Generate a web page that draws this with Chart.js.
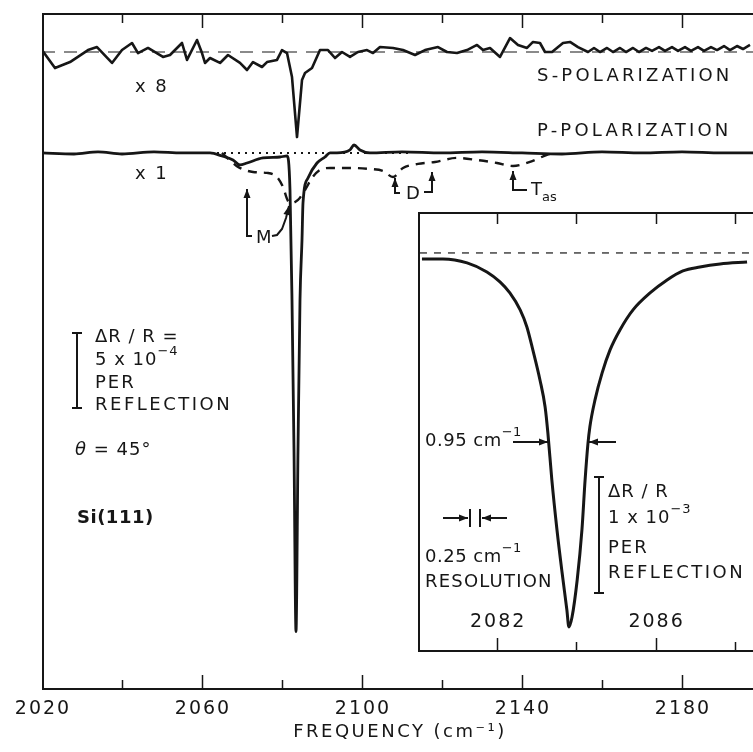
<!DOCTYPE html>
<html>
<head>
<meta charset="utf-8">
<script src="https://cdn.jsdelivr.net/npm/chart.js@4.4.1/dist/chart.umd.min.js"></script>
<style>
  body { margin: 0; background: #fff; }
  #wrap { position: relative; width: 753px; height: 752px; overflow: hidden; }
  #mainChart { position: absolute; left: 0; top: 0; }
  #inset { position: absolute; left: 418px; top: 212px; }
</style>
</head>
<body>
<div id="wrap">
  <canvas id="mainChart" width="753" height="752"></canvas>
  <canvas id="inset" width="335" height="440"></canvas>
</div>
<script>
// ---- datos (ΔR/R en unidades de 1e-3) ----

// S-polarizacion, ya multiplicada x8 (desplazada hacia arriba al dibujar)
const sFreq = [2020, 2023.25, 2027, 2031.5, 2033.75, 2037.5, 2040, 2042.5, 2044, 2046.5, 2050.25, 2052, 2055, 2056.25, 2058.75, 2060, 2060.75, 2062, 2064.5, 2066.5, 2069.5, 2071.25, 2072.75, 2075, 2076.25, 2078.75, 2080, 2081.25, 2082.5, 2083.75, 2085, 2085.75, 2087.5, 2089.5, 2091.5, 2093.25, 2095, 2097, 2099, 2101.25, 2102.75, 2104.5, 2107.75, 2110.25, 2113.25, 2115.75, 2119, 2121.25, 2123.75, 2126.25, 2128.75, 2130.25, 2132, 2134.5, 2137, 2139, 2141.25, 2142.75, 2144.5, 2145.75, 2147.5, 2150.25, 2152, 2154, 2156.5, 2158, 2159.5, 2161.25, 2162.75, 2164.5, 2166, 2167.75, 2169.25, 2171, 2172.5, 2174.25, 2175.75, 2177.5, 2179, 2180.75, 2182.25, 2184, 2185.5, 2187.25, 2188.75, 2190.5, 2192, 2193.75, 2195.25, 2197];
const sValX8 = [0.013, -0.107, -0.067, 0.013, 0.033, -0.073, 0.013, 0.06, -0.007, 0.027, -0.033, -0.02, 0.06, -0.053, 0.08, -0.007, -0.073, -0.04, -0.073, -0.02, -0.073, -0.12, -0.067, -0.1, -0.067, -0.053, 0.013, -0.007, -0.167, -0.567, -0.187, -0.14, -0.107, 0.013, 0.013, -0.04, 0, -0.033, 0, 0.013, -0.007, 0.033, 0.027, 0.013, -0.02, 0.013, 0.033, 0, -0.007, 0.013, 0.047, 0.013, 0.027, -0.033, 0.093, 0.047, 0.027, 0.067, 0.06, 0, 0, 0.06, 0.067, 0.033, 0, 0.027, 0, 0.027, 0, 0.027, 0, 0.027, 0, 0.027, 0.007, 0.033, 0.007, 0.033, 0.007, 0.033, 0.007, 0.033, 0.007, 0.033, 0.013, 0.04, 0.013, 0.04, 0.02, 0.047];
const S_OFFSET = 0.673;

// P-polarizacion x1 (linea continua)
const pFreq = [2020, 2028, 2034, 2040, 2048, 2055, 2062, 2065, 2067.75, 2069.5, 2071.25, 2075.25, 2079.5, 2081.25, 2082, 2082.5, 2083, 2083.5, 2084, 2084.5, 2085, 2085.25, 2086.5, 2088.75, 2090.75, 2092, 2093.75, 2097, 2098, 2099.5, 2102, 2110, 2120, 2130, 2140, 2150, 2160, 2170, 2180, 2190, 2198];
const pVal = [0, -0.007, 0.007, -0.007, 0.007, 0, 0, -0.02, -0.047, -0.08, -0.067, -0.033, -0.027, -0.02, -0.247, -0.98, -1.98, -3.19, -1.98, -0.98, -0.58, -0.333, -0.167, -0.067, -0.027, 0, 0, 0.02, 0.053, 0.02, 0, 0.007, 0, 0.007, 0, -0.007, 0.007, 0, 0.007, 0, 0];

// P-polarizacion, curva discontinua (M, D, Tas)
const dFreq = [2065, 2067.75, 2069, 2072.75, 2076.25, 2078.75, 2080.25, 2081.5, 2082.5, 2084, 2085.75, 2087.5, 2089.5, 2092, 2097, 2102, 2105.25, 2107.75, 2110.25, 2114, 2118.25, 2123.75, 2128.75, 2133.75, 2137.75, 2142, 2146.25, 2148.25];
const dVal = [0, -0.067, -0.093, -0.127, -0.133, -0.16, -0.227, -0.32, -0.333, -0.313, -0.247, -0.167, -0.113, -0.1, -0.1, -0.107, -0.12, -0.16, -0.1, -0.073, -0.06, -0.033, -0.047, -0.067, -0.087, -0.06, -0.013, 0];

// recuadro: pico ampliado
const insetFreq = [2080.1, 2080.63, 2081.24, 2081.74, 2082.07, 2082.32, 2082.58, 2082.75, 2082.9, 2083.08, 2083.21, 2083.28, 2083.38, 2083.51, 2083.64, 2083.76, 2083.81, 2083.89, 2084.02, 2084.14, 2084.22, 2084.29, 2084.34, 2084.47, 2084.65, 2084.85, 2085.1, 2085.43, 2085.86, 2086.29, 2086.69, 2087.12, 2087.63, 2088.31];
const insetVal = [-0.052, -0.052, -0.086, -0.164, -0.25, -0.345, -0.491, -0.638, -0.836, -1.095, -1.328, -1.552, -1.957, -2.388, -2.759, -3.078, -3.224, -3.138, -2.819, -2.388, -1.957, -1.65, -1.5, -1.267, -1.034, -0.836, -0.664, -0.491, -0.345, -0.233, -0.155, -0.121, -0.095, -0.078];

// marcas de los ejes
const xTickLabels = [2020, 2060, 2100, 2140, 2180];
const xMinorTicks = [2040, 2080, 2120, 2160];
const insetTickLabels = [2082, 2086];
const insetMinorTicks = [2084, 2088];

const INK = '#161616';
const FONT = '"DejaVu Sans", sans-serif';

function toPoints(xs, ys, offset) {
    return xs.map(function (x, i) { return { x: x, y: ys[i] + (offset || 0) }; });
}

function setFont(ctx, size, style) {
    ctx.font = (style || '') + ' ' + size + 'px ' + FONT;
}

// texto con partes normales, superindices y subindices
function richText(ctx, parts, x, y, size) {
    let cx = x;
    parts.forEach(function (p) {
        const small = p[1] === 'sup' || p[1] === 'sub';
        setFont(ctx, small ? Math.round(size * 0.72) : size, p[2]);
        const dy = p[1] === 'sup' ? -size * 0.45 : (p[1] === 'sub' ? size * 0.4 : 0);
        ctx.fillText(p[0], cx, y + dy);
        cx += ctx.measureText(p[0]).width;
    });
}

// polilinea con punta de flecha en el ultimo punto
function arrow(ctx, pts) {
    ctx.beginPath();
    ctx.moveTo(pts[0][0], pts[0][1]);
    for (let i = 1; i < pts.length; i++) ctx.lineTo(pts[i][0], pts[i][1]);
    ctx.stroke();
    const a = pts[pts.length - 2], b = pts[pts.length - 1];
    const ang = Math.atan2(b[1] - a[1], b[0] - a[0]);
    const c = Math.cos(ang), s = Math.sin(ang);
    ctx.beginPath();
    ctx.moveTo(b[0], b[1]);
    ctx.lineTo(b[0] - 9 * c + 3.5 * s, b[1] - 9 * s - 3.5 * c);
    ctx.lineTo(b[0] - 9 * c - 3.5 * s, b[1] - 9 * s + 3.5 * c);
    ctx.closePath();
    ctx.fill();
}

function polyline(ctx, pts) {
    ctx.beginPath();
    ctx.moveTo(pts[0][0], pts[0][1]);
    for (let i = 1; i < pts.length; i++) ctx.lineTo(pts[i][0], pts[i][1]);
    ctx.stroke();
}

// barra de escala vertical con topes
function scaleBar(ctx, x, y1, y2) {
    polyline(ctx, [[x, y1], [x, y2]]);
    polyline(ctx, [[x - 5, y1], [x + 5, y1]]);
    polyline(ctx, [[x - 5, y2], [x + 5, y2]]);
}

function drawNotes(ctx, notes, dx, dy) {
    ctx.textBaseline = 'middle';
    ctx.textAlign = 'left';
    notes.forEach(function (n) {
        ctx.letterSpacing = (n.ls === undefined ? 2 : n.ls) + 'px';
        richText(ctx, n.parts, n.x - dx, n.y - dy, n.size || 18);
    });
    ctx.letterSpacing = '0px';
}

// textos de la grafica principal (coordenadas de pagina)
const mainNotes = [
    { x: 135, y: 87, parts: [['x 8']] },
    { x: 135, y: 174, parts: [['x 1']] },
    { x: 537, y: 76, parts: [['S-POLARIZATION']], size: 18, ls: 3.2 },
    { x: 537, y: 131, parts: [['P-POLARIZATION']], size: 18, ls: 3.2 },
    { x: 256, y: 238, parts: [['M']], ls: 0 },
    { x: 406, y: 194, parts: [['D']], ls: 0 },
    { x: 531, y: 190, parts: [['T'], ['as', 'sub']], ls: 0 },
    { x: 95, y: 337, parts: [['ΔR / R =']], ls: 1 },
    { x: 95, y: 360, parts: [['5 x 10'], ['−4', 'sup']], ls: 1 },
    { x: 95, y: 383, parts: [['PER']] },
    { x: 95, y: 405, parts: [['REFLECTION']], ls: 2.5 },
    { x: 75, y: 450, parts: [['θ', '', 'italic'], [' = 45°']], ls: 1 },
    { x: 77, y: 518, parts: [['Si(111)', '', 'bold']], ls: 0.5 }
];

// textos del recuadro (coordenadas de pagina)
const insetNotes = [
    { x: 425, y: 441, parts: [['0.95 cm'], ['−1', 'sup']], ls: 0.5 },
    { x: 425, y: 557, parts: [['0.25 cm'], ['−1', 'sup']], ls: 0.5 },
    { x: 425, y: 582, parts: [['RESOLUTION']], ls: 1.2 },
    { x: 608, y: 492, parts: [['ΔR / R']], ls: 1 },
    { x: 608, y: 518, parts: [['1 x 10'], ['−3', 'sup']], ls: 1 },
    { x: 608, y: 548, parts: [['PER']] },
    { x: 608, y: 573, parts: [['REFLECTION']], ls: 2.5 }
];

const mainDecor = {
    id: 'mainDecor',
    afterDraw: function (chart) {
        const ctx = chart.ctx;
        const a = chart.chartArea;
        const xs = chart.scales.x;
        ctx.save();
        ctx.strokeStyle = INK;
        ctx.fillStyle = INK;
        ctx.lineWidth = 2;
        // marco: arriba, izquierda, abajo
        polyline(ctx, [[a.right, a.top + 1], [a.left + 1, a.top + 1], [a.left + 1, a.bottom - 1], [a.right, a.bottom - 1]]);
        // marcas hacia dentro
        ctx.lineWidth = 1.5;
        xTickLabels.concat(xMinorTicks).forEach(function (v) {
            if (v <= xs.min) return;
            const px = Math.round(xs.getPixelForValue(v)) + 0.5;
            const len = xTickLabels.indexOf(v) >= 0 ? 15 : 10;
            polyline(ctx, [[px, a.top], [px, a.top + len]]);
            polyline(ctx, [[px, a.bottom], [px, a.bottom - len]]);
        });
        // etiquetas del eje x
        ctx.textAlign = 'center';
        ctx.textBaseline = 'middle';
        ctx.letterSpacing = '2px';
        setFont(ctx, 19);
        xTickLabels.forEach(function (v) {
            ctx.fillText(String(v), xs.getPixelForValue(v) + 1, a.bottom + 19);
        });
        setFont(ctx, 18);
        ctx.letterSpacing = '2.5px';
        ctx.fillText('FREQUENCY (cm⁻¹)', 400, a.bottom + 42);
        // anotaciones
        ctx.lineWidth = 2;
        drawNotes(ctx, mainNotes, 0, 0);
        scaleBar(ctx, 77, 333, 408);
        // M
        arrow(ctx, [[252, 236], [247, 236], [247, 189]]);
        arrow(ctx, [[272, 236], [277, 235], [282, 229], [286, 218], [289, 206]]);
        // D
        arrow(ctx, [[400, 193], [395, 193], [395, 178]]);
        arrow(ctx, [[424, 192], [432, 192], [432, 172]]);
        // Tas
        arrow(ctx, [[527, 190], [513, 190], [513, 171]]);
        ctx.restore();
    }
};

const insetDecor = {
    id: 'insetDecor',
    beforeDraw: function (chart) {
        const ctx = chart.ctx;
        ctx.save();
        ctx.fillStyle = '#fff';
        ctx.fillRect(0, 0, chart.width, chart.height);
        ctx.restore();
    },
    afterDraw: function (chart) {
        const ctx = chart.ctx;
        const a = chart.chartArea;
        const xs = chart.scales.x;
        const ox = 418, oy = 212;
        ctx.save();
        ctx.strokeStyle = INK;
        ctx.fillStyle = INK;
        ctx.lineWidth = 2;
        polyline(ctx, [[a.right, a.top + 1], [a.left + 1, a.top + 1], [a.left + 1, a.bottom - 1], [a.right, a.bottom - 1]]);
        ctx.lineWidth = 1.5;
        insetTickLabels.concat(insetMinorTicks).forEach(function (v) {
            const px = Math.round(xs.getPixelForValue(v)) + 0.5;
            const len = insetTickLabels.indexOf(v) >= 0 ? 14 : 10;
            polyline(ctx, [[px, a.top], [px, a.top + 12]]);
            polyline(ctx, [[px, a.bottom], [px, a.bottom - len]]);
        });
        ctx.textAlign = 'center';
        ctx.textBaseline = 'middle';
        ctx.letterSpacing = '2px';
        setFont(ctx, 19);
        insetTickLabels.forEach(function (v) {
            ctx.fillText(String(v), xs.getPixelForValue(v) + 1, a.bottom - 30);
        });
        ctx.lineWidth = 2;
        drawNotes(ctx, insetNotes, ox, oy);
        // ancho a media altura
        arrow(ctx, [[513 - ox, 442 - oy], [548 - ox, 442 - oy]]);
        arrow(ctx, [[616 - ox, 442 - oy], [589 - ox, 442 - oy]]);
        // resolucion
        arrow(ctx, [[443 - ox, 518 - oy], [468 - ox, 518 - oy]]);
        arrow(ctx, [[507 - ox, 518 - oy], [482 - ox, 518 - oy]]);
        polyline(ctx, [[470 - ox, 509 - oy], [470 - ox, 527 - oy]]);
        polyline(ctx, [[480 - ox, 509 - oy], [480 - ox, 527 - oy]]);
        scaleBar(ctx, 599 - ox, 477 - oy, 593 - oy);
        ctx.restore();
    }
};

function lineSet(points, width, dash, mode) {
    return {
        data: points,
        borderColor: INK,
        borderWidth: width,
        borderDash: dash || [],
        pointRadius: 0,
        fill: false,
        tension: 0,
        cubicInterpolationMode: mode || 'default',
        borderJoinStyle: 'round',
        borderCapStyle: 'butt'
    };
}

function hiddenScales(xmin, xmax, ymin, ymax) {
    return {
        x: { type: 'linear', min: xmin, max: xmax, display: false },
        y: { type: 'linear', min: ymin, max: ymax, display: false }
    };
}

// grafica principal
new Chart(document.getElementById('mainChart').getContext('2d'), {
    type: 'line',
    data: {
        datasets: [
            lineSet([{ x: 2020, y: S_OFFSET }, { x: 2198, y: S_OFFSET }], 1.2, [13, 9]),
            lineSet([{ x: 2062, y: 0 }, { x: 2112, y: 0 }], 2, [2, 5]),
            lineSet(toPoints(sFreq, sValX8, S_OFFSET), 2.6),
            lineSet(toPoints(dFreq, dVal), 2.4, [9, 7], 'monotone'),
            lineSet(toPoints(pFreq, pVal), 2.8, [], 'monotone')
        ]
    },
    options: {
        responsive: false,
        animation: false,
        devicePixelRatio: 1,
        layout: { padding: { left: 42, right: 0, top: 13, bottom: 62 } },
        scales: hiddenScales(2020, 2197.75, -3.58, 0.933),
        plugins: { legend: { display: false }, tooltip: { enabled: false } }
    },
    plugins: [mainDecor]
});

// recuadro con el pico ampliado
new Chart(document.getElementById('inset').getContext('2d'), {
    type: 'line',
    data: {
        datasets: [
            lineSet([{ x: 2080.05, y: 0 }, { x: 2088.6, y: 0 }], 1.2, [7, 7]),
            lineSet(toPoints(insetFreq, insetVal), 3, [], 'monotone')
        ]
    },
    options: {
        responsive: false,
        animation: false,
        devicePixelRatio: 1,
        layout: { padding: 0 },
        scales: hiddenScales(2080, 2088.46, -3.44, 0.353),
        plugins: { legend: { display: false }, tooltip: { enabled: false } }
    },
    plugins: [insetDecor]
});
</script>
</body>
</html>
